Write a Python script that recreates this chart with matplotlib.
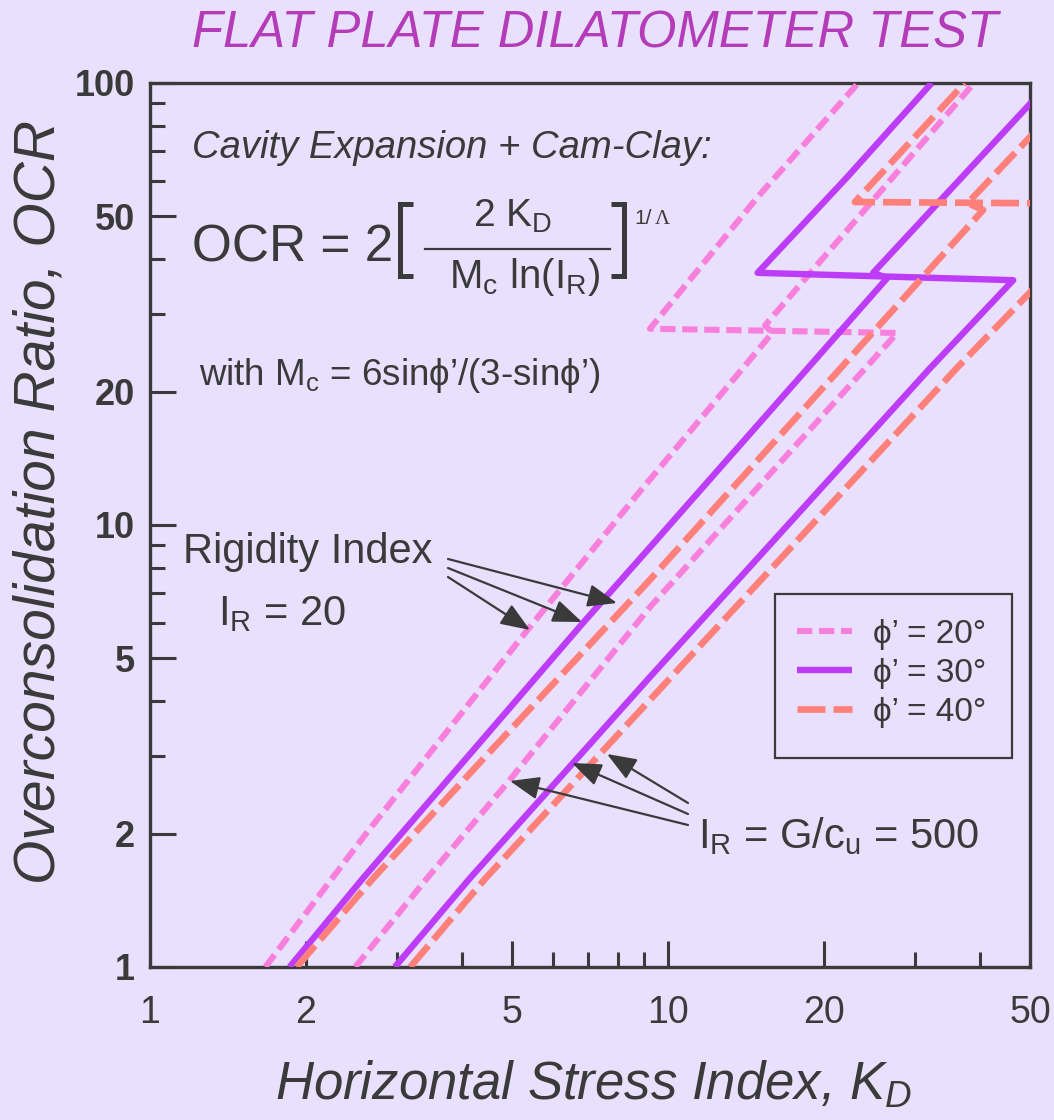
import matplotlib
matplotlib.use("Agg")
import matplotlib.pyplot as plt
import matplotlib.transforms as mtransforms
from matplotlib.lines import Line2D
from matplotlib.patches import Rectangle, FancyArrowPatch

# ---------------- data ----------------
pink_ir20_kd = [1.67, 2.25, 2.61, 5.35, 8.56, 15.9, 15.4, 39.0]
pink_ir20_ocr = [1.0, 1.59, 2.0, 5.78, 11.4, 27.2, 28.3, 100.0]
pink_ir500_kd = [2.49, 3.43, 4.95, 9.23, 27.7, 9.23, 14.9, 23.3]
pink_ir500_ocr = [1.0, 1.59, 2.65, 6.52, 27.2, 27.8, 55.2, 100.0]

purple_ir20_kd = [1.86, 2.58, 6.85, 9.23, 26.5, 24.9, 50.4, 54.0]
purple_ir20_ocr = [1.0, 1.59, 6.0, 8.9, 36.2, 37.2, 90.6, 100.0]
purple_ir500_kd = [2.97, 4.15, 6.55, 9.23, 31.8, 46.4, 14.9, 22.2, 32.3]
purple_ir500_ocr = [1.0, 1.59, 2.89, 4.53, 22.4, 35.8, 37.2, 61.3, 100.0]

salmon_ir20_kd = [1.92, 2.70, 4.25, 9.11, 40.6, 37.9, 50.0, 57.0]
salmon_ir20_ocr = [1.0, 1.59, 2.83, 7.39, 51.6, 53.5, 75.5, 89.0]
salmon_ir500_kd = [3.18, 4.45, 7.73, 36.3, 50.0, 71.5, 22.96, 37.4]
salmon_ir500_ocr = [1.0, 1.59, 3.21, 22.8, 33.6, 53.3, 53.8, 100.0]

x_ticks = [1, 2, 5, 10, 20, 50]
x_ticklabels = ["1", "2", "5", "10", "20", "50"]
x_minor = [3, 4, 6, 7, 8, 9, 30, 40]
y_ticks = [1, 2, 5, 10, 20, 50, 100]
y_ticklabels = ["1", "2", "5", "10", "20", "50", "100"]
y_minor = [3, 4, 6, 7, 8, 9, 30, 40, 60, 70, 80, 90]

legend_labels = ["\u03d5\u2019 = 20\u00b0", "\u03d5\u2019 = 30\u00b0", "\u03d5\u2019 = 40\u00b0"]

# ---------------- style ----------------
BG = "#E8E0FC"
INK = "#3A3A3A"
PINK = "#F880DC"
PURPLE = "#BC3CF8"
SALMON = "#FF7F7A"
TITLE_C = "#B43CB8"

plt.rcParams["mathtext.fontset"] = "custom"
plt.rcParams["mathtext.rm"] = "Liberation Sans"
plt.rcParams["mathtext.it"] = "Liberation Sans:italic"
plt.rcParams["font.family"] = ["Liberation Sans", "DejaVu Sans"]

W, H = 1054, 1120
fig = plt.figure(figsize=(W / 100, H / 100), dpi=100, facecolor=BG)
PX = mtransforms.Affine2D().scale(1 / W, -1 / H).translate(0, 1) + fig.transFigure

L, R, T, B = 150, 1030, 83, 967
ax = fig.add_axes([L / W, 1 - B / H, (R - L) / W, (B - T) / H])
ax.set_facecolor(BG)
ax.set_xscale("log")
ax.set_yscale("log")
ax.set_xlim(1, 50)
ax.set_ylim(1, 100)

styles = {
    "pink": dict(color=PINK, lw=4.4, dashes=(2.5, 1.1)),
    "purple": dict(color=PURPLE, lw=4.6),
    "salmon": dict(color=SALMON, lw=4.8, dashes=(4.2, 1.2)),
}
for kd, ocr, s in [
    (pink_ir20_kd, pink_ir20_ocr, "pink"),
    (pink_ir500_kd, pink_ir500_ocr, "pink"),
    (purple_ir20_kd, purple_ir20_ocr, "purple"),
    (purple_ir500_kd, purple_ir500_ocr, "purple"),
    (salmon_ir20_kd, salmon_ir20_ocr, "salmon"),
    (salmon_ir500_kd, salmon_ir500_ocr, "salmon"),
]:
    ax.plot(kd, ocr, solid_capstyle="butt", dash_capstyle="butt", zorder=3, **styles[s])

for sp in ax.spines.values():
    sp.set_color(INK)
    sp.set_linewidth(2.4)

ax.set_xticks(x_ticks)
ax.set_xticklabels(x_ticklabels)
ax.set_xticks(x_minor, minor=True)
ax.set_xticklabels([], minor=True)
ax.set_yticks(y_ticks)
ax.set_yticklabels(y_ticklabels)
ax.set_yticks(y_minor, minor=True)
ax.set_yticklabels([], minor=True)
ax.tick_params(which="major", direction="in", length=18.7, width=2.2, color=INK)
ax.tick_params(which="minor", direction="in", length=10.8, width=2.2, color=INK)
ax.tick_params(axis="x", which="major", labelsize=27, labelcolor=INK, pad=20)
ax.tick_params(axis="y", which="major", labelsize=26, labelcolor=INK, pad=11)
for lab in ax.get_yticklabels():
    lab.set_fontweight("bold")

# axis labels
fig.text(40, 502, "Overconsolidation Ratio, OCR", transform=PX, rotation=90,
         ha="center", va="center", fontsize=41, style="italic", color=INK)
fig.text(594, 1100, "Horizontal Stress Index, $K_D$", transform=PX,
         ha="center", va="baseline", fontsize=38, style="italic", color=INK)

# title
fig.text(595, 48, "FLAT PLATE DILATOMETER TEST", transform=PX, ha="center",
         va="baseline", fontsize=36.5, style="italic", color=TITLE_C)

# annotation texts
fig.text(192, 158, "Cavity Expansion + Cam-Clay:", transform=PX, ha="left",
         va="baseline", fontsize=27.5, style="italic", color=INK)
fig.text(192, 262, "OCR = 2", transform=PX, ha="left", va="baseline",
         fontsize=37, color=INK)
# brackets and fraction bar
fig.add_artist(Line2D([413, 400, 400, 413], [204, 204, 276, 276], transform=PX,
                      color=INK, lw=3.6, solid_joinstyle="miter", solid_capstyle="butt"))
fig.add_artist(Line2D([611, 624, 624, 611], [204, 204, 276, 276], transform=PX,
                      color=INK, lw=3.6, solid_joinstyle="miter", solid_capstyle="butt"))
fig.add_artist(Line2D([425, 610], [249, 249], transform=PX, color=INK, lw=1.6))
fig.text(513, 227, "2 K$_\\mathrm{D}$", transform=PX, ha="center", va="baseline",
         fontsize=28, color=INK)
fig.text(524, 288, "M$_\\mathrm{c}$ ln(I$_\\mathrm{R}$)", transform=PX, ha="center",
         va="baseline", fontsize=29, color=INK)
fig.text(634, 224, "1/", transform=PX, ha="left", va="baseline", fontsize=15, color=INK)
fig.text(655, 224, "\u039b", transform=PX, ha="left", va="baseline", fontsize=15,
         color=INK, family=["Liberation Serif", "DejaVu Serif"])
fig.text(199, 385, "with M$_\\mathrm{c}$ = 6sin\u03d5\u2019/(3-sin\u03d5\u2019)", transform=PX,
         ha="left", va="baseline", fontsize=26.5, color=INK)

fig.text(183, 563, "Rigidity Index", transform=PX, ha="left", va="baseline",
         fontsize=30, color=INK)
fig.text(218, 625, "I$_\\mathrm{R}$ = 20", transform=PX, ha="left", va="baseline",
         fontsize=30, color=INK)
fig.text(698, 848, "I$_\\mathrm{R}$ = G/c$_\\mathrm{u}$ = 500", transform=PX, ha="left",
         va="baseline", fontsize=30, color=INK)

# arrows
def arrow(p0, p1):
    a = FancyArrowPatch(p0, p1, transform=PX, arrowstyle="-|>,head_length=18,head_width=7",
                        color=INK, lw=1.6, shrinkA=0, shrinkB=0, mutation_scale=1)
    fig.add_artist(a)

arrow((448, 559), (617, 603))
arrow((448, 568), (582, 622))
arrow((448, 577), (530, 630))
arrow((688, 803), (607, 754))
arrow((688, 814), (572, 763))
arrow((688, 825), (510, 781))

# legend (manual box)
fig.add_artist(Rectangle((775, 594), 237, 164, transform=PX, facecolor=BG,
                         edgecolor=INK, lw=1.6, zorder=5))
for yy, s, lab in zip([631, 670, 709], ["pink", "purple", "salmon"], legend_labels):
    st = dict(styles[s])
    fig.add_artist(Line2D([797, 852], [yy, yy], transform=PX, zorder=6,
                          solid_capstyle="butt", dash_capstyle="butt", **st))
    fig.text(873, yy + 12, lab, transform=PX, ha="left", va="baseline",
             fontsize=24, color=INK, zorder=6)

fig.savefig("out.png", dpi=100, facecolor=BG)
